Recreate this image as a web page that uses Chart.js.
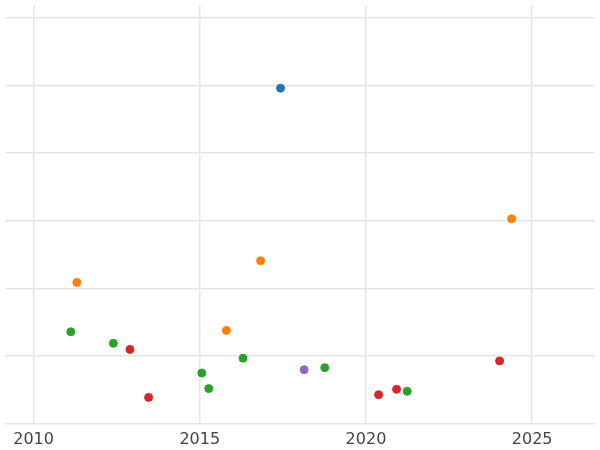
<!DOCTYPE html>
<html><head><meta charset="utf-8">
<script src="https://cdn.jsdelivr.net/npm/chart.js@4"></script>
<style>body{margin:0;background:#fff}</style>
</head><body>
<canvas id="c" width="600" height="450"></canvas>
<script>
// valores (x = ano, y = unidades de grade)
const xTicks = [2010, 2015, 2020, 2025];
const blueX = [2017.43], blueY = [4.96];
const orangeX = [2024.38, 2011.30, 2016.83, 2015.80], orangeY = [3.03, 2.09, 2.41, 1.38];
const greenX = [2011.12, 2012.40, 2015.06, 2015.27, 2016.30, 2018.76, 2021.24];
const greenY = [1.36, 1.19, 0.75, 0.52, 0.97, 0.83, 0.48];
const redX = [2012.90, 2013.46, 2020.38, 2020.92, 2024.02], redY = [1.10, 0.39, 0.43, 0.51, 0.93];
const purpleX = [2018.14], purpleY = [0.80];

function pts(xs, ys){ return xs.map((x,i)=>({x, y: ys[i]})); }
function ds(xs, ys, color){ return { data: pts(xs, ys), backgroundColor: color, borderColor: color, pointRadius: 4, pointHoverRadius: 4 }; }

new Chart(document.getElementById('c'), {
	type: 'scatter',
	data: { datasets: [
		ds(blueX, blueY, '#1f77b4'),
		ds(orangeX, orangeY, '#ff7f0e'),
		ds(greenX, greenY, '#2ca02c'),
		ds(redX, redY, '#d62728'),
		ds(purpleX, purpleY, '#9467bd')
	]},
	options: {
		responsive: false, animation: false,
		layout: { padding: { left: -6, right: -6, top: -5, bottom: -5 } },
		plugins: { legend: { display: false }, tooltip: { enabled: false } },
		scales: {
			x: { min: 2009.14, max: 2026.89,
				afterBuildTicks(ax){ ax.ticks = xTicks.map(v=>({value: v})); },
				grid: { color: '#e6e6e6', lineWidth: 1.5, drawTicks: false },
				border: { display: false },
				ticks: { color: '#444', font: { size: 16, family: 'DejaVu Sans' }, padding: 6, callback: v => String(v) } },
			y: { min: 0, max: 6.19, afterBuildTicks(ax){ ax.ticks = [0,1,2,3,4,5,6].map(v=>({value:v})); },
				grid: { color: '#e6e6e6', lineWidth: 1.5, drawTicks: false },
				border: { display: false },
				ticks: { display: false } }
		}
	}
});
</script>
</body></html>
